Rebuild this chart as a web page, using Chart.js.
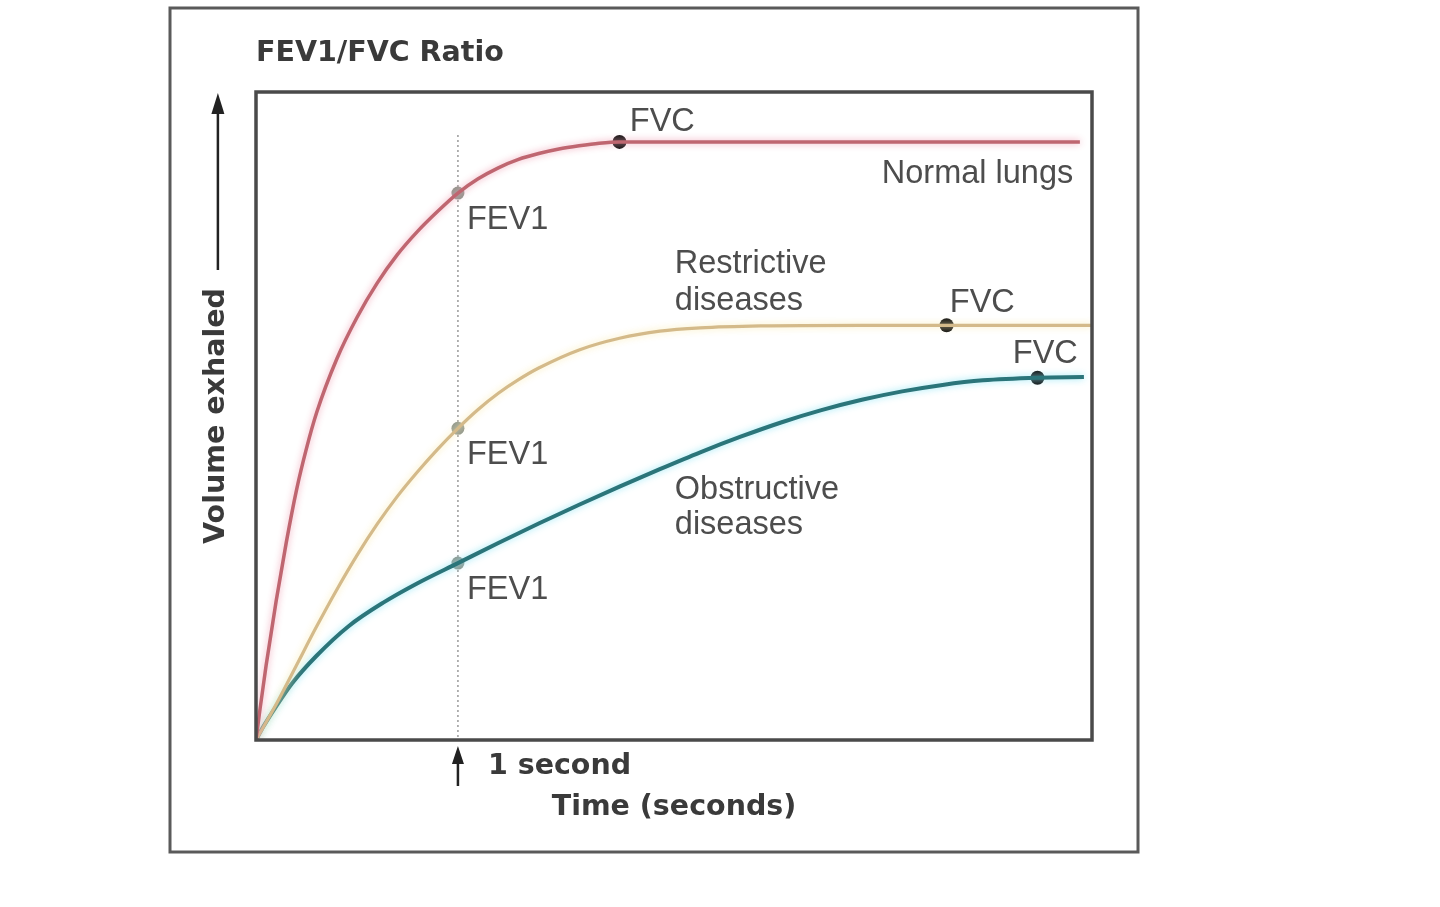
<!DOCTYPE html>
<html>
<head>
<meta charset="utf-8">
<script src="https://cdn.jsdelivr.net/npm/chart.js@4.4.1/dist/chart.umd.min.js"></script>
<style>
  html, body { margin: 0; padding: 0; background: #ffffff; }
  #wrap { width: 1440px; height: 907px; position: relative; }
  canvas { filter: blur(0.6px); }
</style>
</head>
<body>
<div id="wrap"><canvas id="c" width="1440" height="907"></canvas></div>
<script>
// ---- Data (time in seconds, volume as % of plot height) ----
const normalTime    = [0, 0.02, 0.05, 0.10, 0.15, 0.20, 0.25, 0.30, 0.40, 0.50, 0.60, 0.70, 0.80, 0.90, 1.00, 1.10, 1.20, 1.30, 1.40, 1.50, 1.60, 1.70, 1.80, 4.08];
const normalVolume  = [0, 4.8, 11.5, 21.5, 30.5, 38.5, 45.0, 50.5, 58.8, 65.2, 70.5, 74.9, 78.5, 81.6, 84.4, 86.6, 88.3, 89.6, 90.5, 91.2, 91.7, 92.1, 92.3, 92.3];

const restrictTime   = [0, 0.10, 0.20, 0.30, 0.40, 0.50, 0.60, 0.70, 0.80, 0.90, 1.00, 1.10, 1.20, 1.30, 1.40, 1.60, 1.80, 2.00, 2.20, 2.50, 3.00, 3.42, 4.14];
const restrictVolume = [0, 5.5, 11.5, 17.5, 23.2, 28.5, 33.3, 37.6, 41.4, 44.9, 48.1, 51.0, 53.5, 55.6, 57.4, 60.2, 62.0, 63.1, 63.6, 63.9, 64.0, 64.0, 64.0];

const obstructTime   = [0, 0.035, 0.10, 0.18, 0.30, 0.46, 0.63, 0.80, 1.00, 1.20, 1.40, 1.60, 1.80, 2.00, 2.20, 2.40, 2.60, 2.80, 3.00, 3.20, 3.40, 3.60, 3.87, 4.10];
const obstructVolume = [0, 2.0, 5.2, 8.8, 13.0, 17.6, 21.2, 24.2, 27.3, 30.4, 33.4, 36.3, 39.1, 41.8, 44.4, 46.8, 49.0, 50.9, 52.5, 53.8, 54.8, 55.5, 55.9, 56.0];

const fev1Time   = [1.0, 1.0, 1.0];
const fev1Volume = [84.4, 48.1, 27.3];
const fvcTime    = [1.80, 3.42, 3.87];
const fvcVolume  = [92.3, 64.0, 55.9];

const labelTexts  = ['FVC', 'Normal lungs', 'FEV1', 'Restrictive', 'diseases', 'FVC', 'FEV1', 'FVC', 'Obstructive', 'diseases', 'FEV1'];
const labelTime   = [1.851, 3.099, 1.045, 2.074, 2.074, 3.436, 1.045, 3.748, 2.074, 2.074, 1.045];
const labelVolume = [95.4, 87.4, 80.2, 73.4, 67.8, 67.5, 44.0, 59.5, 38.6, 33.2, 23.1];

const titleText = 'FEV1/FVC Ratio';
const xTitle = 'Time (seconds)';
const yTitle = 'Volume exhaled';
const markerTime = 1;
const markerText = '1 second';

const xMax = 4.14;
const yMax = 100;

const toXY = (xs, ys) => xs.map((x, i) => ({ x: x, y: ys[i] }));

const glowPlugin = {
  id: 'glow',
  beforeDatasetDraw(chart, args) {
    const ds = chart.data.datasets[args.index];
    if (ds.glowColor) {
      chart.ctx.save();
      chart.ctx.shadowColor = ds.glowColor;
      chart.ctx.shadowBlur = 7;
    }
  },
  afterDatasetDraw(chart, args) {
    const ds = chart.data.datasets[args.index];
    if (ds.glowColor) chart.ctx.restore();
  }
};

function arrowUp(ctx, x, yTip, yTail, headW, headH) {
  ctx.beginPath();
  ctx.moveTo(x, yTail);
  ctx.lineTo(x, yTip + headH - 2);
  ctx.stroke();
  ctx.beginPath();
  ctx.moveTo(x, yTip);
  ctx.lineTo(x - headW / 2, yTip + headH);
  ctx.lineTo(x + headW / 2, yTip + headH);
  ctx.closePath();
  ctx.fill();
}

const decorPlugin = {
  id: 'decor',
  beforeDatasetsDraw(chart) {
    const { ctx, chartArea: a, scales } = chart;
    ctx.save();
    // outer frame
    ctx.strokeStyle = '#5a5a5a';
    ctx.lineWidth = 3;
    ctx.strokeRect(170, 8, 968, 844);
    // dotted 1-second line
    const x1 = scales.x.getPixelForValue(markerTime);
    ctx.strokeStyle = '#9a9a9a';
    ctx.lineWidth = 1.5;
    ctx.setLineDash([2, 3]);
    ctx.beginPath();
    ctx.moveTo(x1, a.top + 43);
    ctx.lineTo(x1, a.bottom);
    ctx.stroke();
    ctx.setLineDash([]);
    ctx.restore();
  },
  afterDatasetsDraw(chart) {
    const { ctx, chartArea: a, scales } = chart;
    ctx.save();
    // plot border
    ctx.strokeStyle = '#4a4a4a';
    ctx.lineWidth = 3.5;
    ctx.strokeRect(a.left, a.top, a.right - a.left, a.bottom - a.top);
    // annotation labels
    ctx.fillStyle = '#4d4d4d';
    ctx.font = '32.5px "Liberation Sans", Arial, sans-serif';
    ctx.textAlign = 'left';
    ctx.textBaseline = 'middle';
    labelTexts.forEach((t, i) => {
      ctx.fillText(t, scales.x.getPixelForValue(labelTime[i]), scales.y.getPixelForValue(labelVolume[i]));
    });
    // 1 second marker arrow + text
    const x1 = scales.x.getPixelForValue(markerTime);
    ctx.strokeStyle = '#222';
    ctx.fillStyle = '#222';
    ctx.lineWidth = 2.5;
    arrowUp(ctx, x1, a.bottom + 6, a.bottom + 46, 12, 18);
    ctx.fillStyle = '#3a3a3a';
    ctx.font = 'bold 28.5px "DejaVu Sans", sans-serif';
    ctx.fillText(markerText, x1 + 30, a.bottom + 27);
    // y-axis arrow
    const ys = scales.y;
    ctx.strokeStyle = '#222';
    ctx.fillStyle = '#222';
    ctx.lineWidth = 2.5;
    const ax = ys.left + 18;
    arrowUp(ctx, ax, a.top + 1, a.top + 178, 13, 21);
    ctx.restore();
  }
};

const titleFont = { family: '"DejaVu Sans", sans-serif', size: 28.5, weight: 'bold', lineHeight: 1.2 };

new Chart(document.getElementById('c'), {
  type: 'line',
  data: {
    datasets: [
      { label: 'Normal lungs', data: toXY(normalTime, normalVolume), borderColor: '#bf6670', borderWidth: 3.5, glowColor: 'rgba(240,160,180,0.9)', pointRadius: 0, cubicInterpolationMode: 'monotone', fill: false },
      { label: 'Restrictive diseases', data: toXY(restrictTime, restrictVolume), borderColor: '#d4ba8a', borderWidth: 3.2, glowColor: 'rgba(250,235,175,0.9)', pointRadius: 0, cubicInterpolationMode: 'monotone', fill: false },
      { label: 'Obstructive diseases', data: toXY(obstructTime, obstructVolume), borderColor: '#2b757a', borderWidth: 4, glowColor: 'rgba(140,230,245,0.9)', pointRadius: 0, cubicInterpolationMode: 'monotone', fill: false },
      { type: 'scatter', label: 'FEV1', data: toXY(fev1Time, fev1Volume), pointRadius: 6.5, pointBackgroundColor: '#8e958c', pointBorderWidth: 0, showLine: false },
      { type: 'scatter', label: 'FVC', data: toXY(fvcTime, fvcVolume), pointRadius: 7, pointBackgroundColor: '#111111', pointBorderWidth: 0, showLine: false }
    ]
  },
  options: {
    responsive: false,
    animation: false,
    layout: { padding: { left: 199.9, top: 26.9, right: 348, bottom: 81.9 } },
    plugins: {
      legend: { display: false },
      tooltip: { enabled: false },
      title: {
        display: true, text: titleText, align: 'start', fullSize: false,
        color: '#3a3a3a', font: titleFont, padding: { top: 10, bottom: 20.9 }
      }
    },
    scales: {
      x: {
        type: 'linear', min: 0, max: xMax,
        ticks: { display: false },
        grid: { display: false, drawTicks: false },
        border: { display: false },
        title: { display: true, text: xTitle, color: '#3a3a3a', font: titleFont, padding: { top: 50.9, bottom: 0 } }
      },
      y: {
        type: 'linear', min: 0, max: yMax,
        ticks: { display: false },
        grid: { display: false, drawTicks: false },
        border: { display: false },
        title: { display: true, text: yTitle, color: '#3a3a3a', font: titleFont, padding: { top: 0, bottom: 21.9 } }
      }
    }
  },
  plugins: [glowPlugin, decorPlugin]
});
</script>
</body>
</html>
